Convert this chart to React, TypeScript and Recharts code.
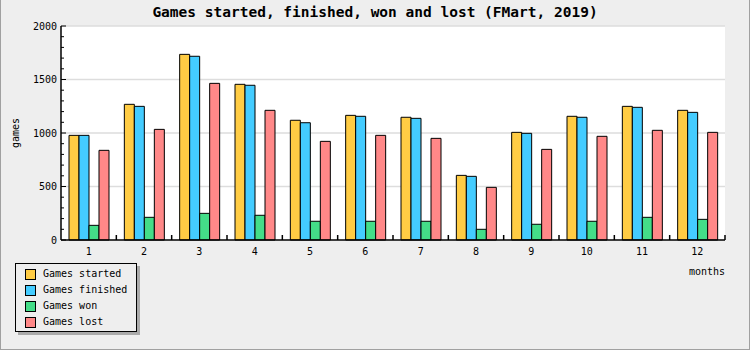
import { BarChart, Bar, XAxis, YAxis, CartesianGrid, Legend } from 'recharts';

// chart values
const MONTHS = ['1', '2', '3', '4', '5', '6', '7', '8', '9', '10', '11', '12'];
const STARTED = [978, 1268, 1735, 1455, 1119, 1165, 1147, 604, 1006, 1156, 1249, 1212];
const FINISHED = [978, 1249, 1717, 1446, 1096, 1156, 1137, 595, 997, 1147, 1240, 1193];
const WON = [137, 212, 249, 231, 175, 175, 175, 100, 147, 175, 212, 193];
const LOST = [838, 1034, 1464, 1212, 922, 978, 950, 492, 847, 969, 1025, 1006];

const Y_TICKS = [0, 100, 200, 300, 400, 500, 600, 700, 800, 900, 1000, 1100, 1200, 1300, 1400, 1500, 1600, 1700, 1800, 1900, 2000];
const Y_LABELS = [0, 500, 1000, 1500, 2000];
const GRID_VALUES = [500, 1000, 1500, 2000];

const SERIES = [
  { key: 'started', name: 'Games started', color: '#FFCC44', values: STARTED },
  { key: 'finished', name: 'Games finished', color: '#44CCFF', values: FINISHED },
  { key: 'won', name: 'Games won', color: '#44DD88', values: WON },
  { key: 'lost', name: 'Games lost', color: '#FF8888', values: LOST },
];

const data = MONTHS.map((m, i) => {
  const row: Record<string, string | number> = { month: m };
  SERIES.forEach(s => { row[s.key] = s.values[i]; });
  return row;
});

/* layout */
const W = 750, H = 350;
const PLOT_L = 61, PLOT_R = 725, PLOT_T = 26, PLOT_B = 240;
const X_AXIS_H = 30;
const BAND = (PLOT_R - PLOT_L) / MONTHS.length;
const FONT = '"DejaVu Sans Mono", monospace';

function XTick(props: any) {
  const { x, payload } = props;
  const bx = x + BAND / 2;
  return (
    <g>
      <line x1={bx} x2={bx} y1={PLOT_B} y2={PLOT_B - 5} stroke="#000" strokeWidth={1.5} />
      <text x={x} y={PLOT_B + 15} textAnchor="middle" fontFamily={FONT} fontSize={10} fill="#000">{payload.value}</text>
    </g>
  );
}

function YTick(props: any) {
  const { x, y, payload } = props;
  const major = Y_LABELS.includes(payload.value);
  return (
    <g>
      <line x1={PLOT_L} x2={PLOT_L + (major ? 5 : 3)} y1={y} y2={y} stroke="#000" strokeWidth={1} />
      {major && (
        <text x={x} y={y} dy="0.36em" textAnchor="end" fontFamily={FONT} fontSize={10} fill="#000">{payload.value}</text>
      )}
    </g>
  );
}

function LegendBox() {
  return (
    <div style={{
      boxSizing: 'border-box', width: 122, height: 69, border: '1px solid #000', background: '#EEEEEE',
      boxShadow: '3px 3px 0 #AAAAAA', padding: '2px 0 0 9px', fontFamily: FONT, fontSize: 10, color: '#000',
    }}>
      {SERIES.map(s => (
        <div key={s.key} style={{ height: 16, display: 'flex', alignItems: 'center' }}>
          <span style={{ boxSizing: 'border-box', width: 11, height: 11, border: '1px solid #000', background: s.color, marginRight: 7 }} />
          <span style={{ lineHeight: '16px', whiteSpace: 'nowrap' }}>{s.name}</span>
        </div>
      ))}
    </div>
  );
}

export default function App() {
  return (
    <div style={{ position: 'absolute', left: 0, top: 0, width: W, height: H, background: '#EEEEEE' }}>
      <div style={{
        position: 'absolute', left: 0, top: 0, width: W, textAlign: 'center', lineHeight: '24px',
        fontFamily: FONT, fontWeight: 'bold', fontSize: 14.5, color: '#000',
      }}>
        Games started, finished, won and lost (FMart, 2019)
      </div>
      <BarChart
        width={W}
        height={H}
        data={data}
        margin={{ top: PLOT_T, right: W - PLOT_R, bottom: H - PLOT_B - X_AXIS_H, left: 0 }}
        barSize={10}
        barGap={0}
      >
        <CartesianGrid vertical={false} horizontalValues={GRID_VALUES} stroke="#DDDDDD" strokeWidth={1.5} fill="#FFFFFF" fillOpacity={1} />
        <XAxis
          dataKey="month"
          height={X_AXIS_H}
          interval={0}
          tickLine={false}
          tickSize={0}
          axisLine={{ stroke: '#000', strokeWidth: 1.5 }}
          tick={<XTick />}
          label={{
            value: 'months',
            content: () => (
              <text x={PLOT_R} y={PLOT_B + 35} textAnchor="end" fontFamily={FONT} fontSize={10} fill="#000">months</text>
            ),
          }}
        />
        <YAxis
          width={PLOT_L}
          domain={[0, 2000]}
          ticks={Y_TICKS}
          interval={0}
          tickLine={false}
          tickSize={0}
          tickMargin={4}
          axisLine={{ stroke: '#000', strokeWidth: 1.5 }}
          tick={<YTick />}
          label={{
            value: 'games',
            content: () => (
              <text x={15} y={(PLOT_T + PLOT_B) / 2} transform={`rotate(-90 15 ${(PLOT_T + PLOT_B) / 2})`} textAnchor="middle" dy="0.36em" fontFamily={FONT} fontSize={10} fill="#000">games</text>
            ),
          }}
        />
        <Legend
          layout="vertical"
          align="center"
          verticalAlign="middle"
          content={<LegendBox />}
          wrapperStyle={{ left: 15, top: 263, width: 122, height: 69 }}
        />
        {SERIES.map(s => (
          <Bar key={s.key} dataKey={s.key} name={s.name} fill={s.color} stroke="#000" strokeWidth={1} isAnimationActive={false} />
        ))}
      </BarChart>
      <div style={{
        position: 'absolute', left: 0, top: 0, width: W, height: H, boxSizing: 'border-box', pointerEvents: 'none',
        borderLeft: '1px solid #A0A0A0', borderRight: '1px solid #A0A0A0', borderBottom: '1px solid #A0A0A0',
      }} />
    </div>
  );
}
